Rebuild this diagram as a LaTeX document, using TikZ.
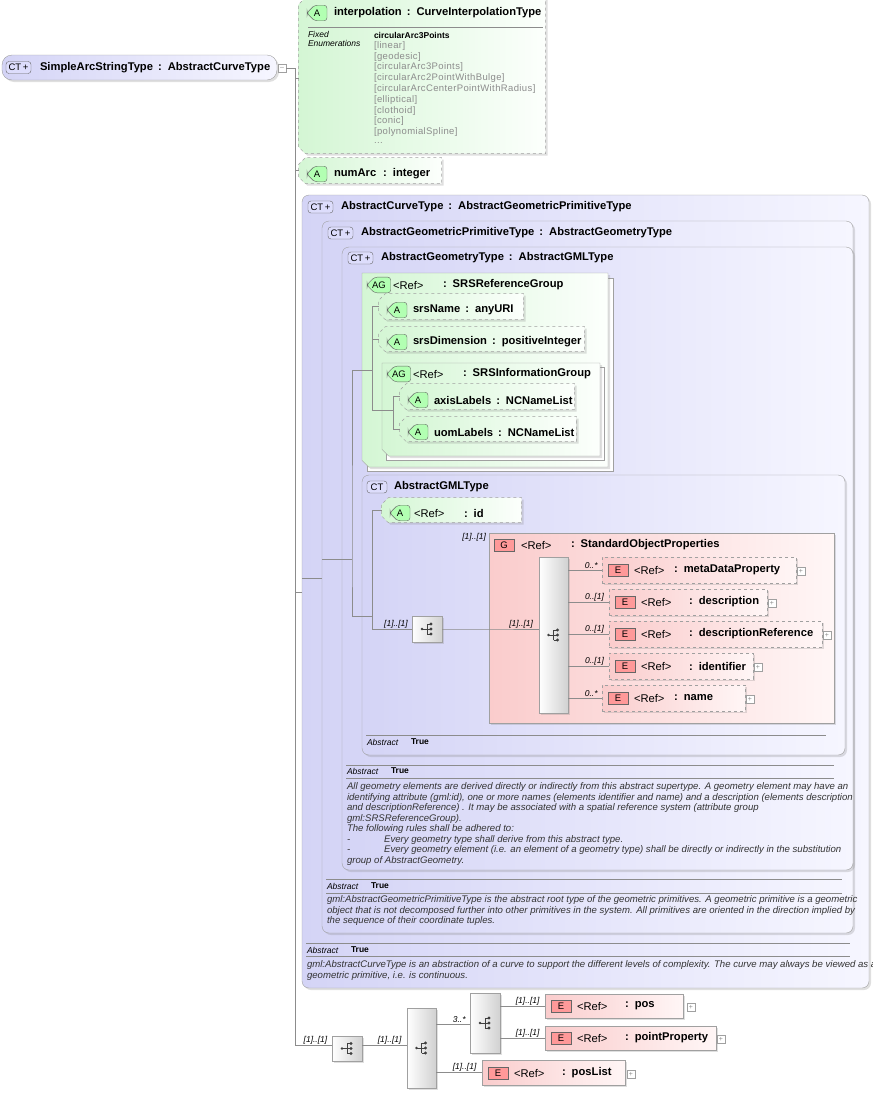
\documentclass[tikz,border=0pt]{standalone}
\usepackage{fontspec}
\setmainfont{Liberation Sans}
\usepackage{tikz}
\usetikzlibrary{
    arrows.meta,
    positioning,
    shapes.misc,
    calc,
    shadows
}
\definecolor{lavdark}{RGB}{212,212,246}
\definecolor{lavlight}{RGB}{246,246,255}
\definecolor{grndark}{RGB}{212,246,212}
\definecolor{grnlight}{RGB}{252,255,252}
\definecolor{reddark}{RGB}{250,204,204}
\definecolor{redlight}{RGB}{255,246,246}
\definecolor{edgegray}{RGB}{160,160,160}
\definecolor{txtgray}{RGB}{140,140,140}

\begin{document}
\begin{tikzpicture}[
    x=1pt, y=-1pt,
    every node/.style={outer sep=0pt},
    shade/.style={drop shadow={opacity=0.25, shadow xshift=2pt, shadow yshift=-2pt}},
    ctbox/.style={
        rectangle, rounded corners=7pt, draw=edgegray, anchor=north west,
        left color=lavdark, right color=lavlight
    },
    grpbox/.style={
        chamfered rectangle, chamfered rectangle corners={south west},
        chamfered rectangle xsep=8pt, draw=edgegray, anchor=north west,
        left color=grndark, right color=grnlight, shade
    },
    attr/.style={
        chamfered rectangle, chamfered rectangle corners={north west,south west},
        chamfered rectangle xsep=7pt, draw=edgegray, dashed, anchor=north west,
        left color=grndark, right color=grnlight, shade
    },
    elem/.style={
        rectangle, draw=edgegray, anchor=north west,
        left color=reddark, right color=redlight, shade
    },
    comp/.style={
        rectangle, draw=edgegray, anchor=north west,
        left color=white, right color=black!18, shade,
        path picture={
            \fill[black!75] ([xshift=-5pt]path picture bounding box.center) circle (1.4pt);
            \draw[black!75, line width=0.8pt]
                ([xshift=-5pt]path picture bounding box.center) -- ([xshift=0pt]path picture bounding box.center)
                ([xshift=0pt, yshift=-5pt]path picture bounding box.center) -- ([xshift=0pt, yshift=5pt]path picture bounding box.center)
                ([xshift=0pt, yshift=-5pt]path picture bounding box.center) -- ([xshift=4pt, yshift=-5pt]path picture bounding box.center)
                ([xshift=0pt, yshift=5pt]path picture bounding box.center) -- ([xshift=4pt, yshift=5pt]path picture bounding box.center)
                ([xshift=0pt]path picture bounding box.center) -- ([xshift=4pt]path picture bounding box.center);
            \fill[black!75] ([xshift=4pt, yshift=-5pt]path picture bounding box.center) circle (1.6pt)
                ([xshift=4pt]path picture bounding box.center) circle (1.6pt)
                ([xshift=4pt, yshift=5pt]path picture bounding box.center) circle (1.6pt);
        }
    },
    badge/.style={
        rectangle, rounded corners=3pt, draw=black!60, inner sep=1pt,
        minimum height=12pt, font=\fontsize{9.5}{10}\selectfont
    },
    ctbadge/.style={badge, fill=lavdark!80!blue!40, minimum width=25pt, anchor=west},
    abadge/.style={badge, chamfered rectangle, chamfered rectangle corners={north west,south west},
        chamfered rectangle xsep=4pt, fill=green!30!white, minimum width=20pt, anchor=west},
    ebadge/.style={badge, rounded corners=0pt, fill=red!40!white, minimum width=20pt, anchor=west},
    plus/.style={rectangle, draw=edgegray, fill=white, minimum size=8pt, inner sep=0pt,
        anchor=west, font=\fontsize{7}{7}\selectfont\color{txtgray}},
    hdr/.style={anchor=west, inner sep=0pt, font=\fontsize{11.2}{13}\selectfont\bfseries},
    ref/.style={anchor=west, inner sep=0pt, font=\fontsize{11.2}{13}\selectfont},
    mult/.style={anchor=south east, inner sep=1pt, font=\fontsize{8.5}{9}\selectfont\itshape},
    small/.style={anchor=west, inner sep=0pt, font=\fontsize{8.5}{9}\selectfont},
    enum/.style={small, font=\fontsize{9.5}{10}\selectfont\addfontfeature{LetterSpace=4}\color{txtgray}},
    doc/.style={anchor=north west, inner sep=0pt, align=left, font=\fontsize{9.6}{10.5}\selectfont\itshape\color{black!80}},
    conn/.style={draw=black!45, line width=0.6pt},
    rule/.style={draw=black!45, line width=0.6pt}
]
\useasboundingbox (0,0) rectangle (873,1093);

% Root type
\node[ctbox, rounded corners=10pt, minimum width=275, minimum height=25, shade] (root) at (2,55) {};
\node[ctbadge] (rootb) at (6,67.5) {CT\,+};
\node[hdr] (rootl) at (40,67.5) {SimpleArcStringType\, :\, AbstractCurveType};
\node[plus, anchor=west] (rootm) at (278,68) {--};

% Trunk
\coordinate (trunktop) at (295,68);
\coordinate (trunkbot) at (295,1045);
\draw[conn] (rootm.east) -- (trunktop) -- (trunkbot);

% Attribute interpolation
\node[attr, minimum width=247, minimum height=156] (interp) at (302,1) {};
\node[abadge] (interpb) at (307,13) {A};
\node[hdr] (interpl) at (334,13) {interpolation\, :\, CurveInterpolationType};
\draw[rule] (308,27) -- (543,27);
\node[doc, font=\fontsize{8.5}{9.5}\selectfont\itshape] (fixed) at (308,31) {Fixed\\Enumerations};
\node[small, font=\fontsize{8.5}{9}\selectfont\bfseries] (enum0) at (374,35) {circularArc3Points};
\node[enum] (enum1) at (374,45.8) {[linear]};
\node[enum] (enum2) at (374,56.6) {[geodesic]};
\node[enum] (enum3) at (374,67.4) {[circularArc3Points]};
\node[enum] (enum4) at (374,78.2) {[circularArc2PointWithBulge]};
\node[enum] (enum5) at (374,89) {[circularArcCenterPointWithRadius]};
\node[enum] (enum6) at (374,99.8) {[elliptical]};
\node[enum] (enum7) at (374,110.6) {[clothoid]};
\node[enum] (enum8) at (374,121.4) {[conic]};
\node[enum] (enum9) at (374,132.2) {[polynomialSpline]};
\node[enum] (enum10) at (374,143) {...};
\draw[conn] (trunktop |- 0,78) -- (interp.west |- 0,78);

% Attribute numArc
\node[attr, minimum width=143, minimum height=26] (numarc) at (302,161) {};
\node[abadge] (numarcb) at (307,174) {A};
\node[hdr] (numarcl) at (334,174) {numArc\,\, :\, integer};
\draw[conn] (trunktop |- numarc.west) -- (numarc.west);

% Nested base types
\node[ctbox, minimum width=567, minimum height=793, shade] (curve) at (302,195) {};
\node[ctbadge] (curveb) at (308,207) {CT\,+};
\node[hdr] (curvel) at (341,207) {AbstractCurveType\, :\, AbstractGeometricPrimitiveType};
\draw[conn] (trunktop |- 0,592) -- (302,592);

\node[ctbox, minimum width=531, minimum height=712, shade] (prim) at (322,221) {};
\node[ctbadge] (primb) at (328,233) {CT\,+};
\node[hdr] (priml) at (361,233) {AbstractGeometricPrimitiveType\, :\, AbstractGeometryType};
\draw[conn] (curve.west |- 0,578) -- (prim.west |- 0,578);

\node[ctbox, minimum width=511, minimum height=623, shade] (geom) at (342,247) {};
\node[ctbadge] (geomb) at (348,258) {CT\,+};
\node[hdr] (geoml) at (381,258) {AbstractGeometryType\, :\, AbstractGMLType};
\coordinate (geomj) at (352,559);
\draw[conn] (prim.west |- geomj) -- (geomj);

% SRSReferenceGroup
\draw[fill=white, draw=edgegray] (367,278) rectangle (613,471);
\node[grpbox, minimum width=246, minimum height=194] (srsref) at (362,273) {};
\node[abadge] (srsrefb) at (367,285) {AG};
\node[ref] (srsrefr) at (393,285) {<Ref>};
\node[hdr] (srsrefl) at (443,285) {:\, SRSReferenceGroup};
\node[attr, minimum width=145, minimum height=26] (srsname) at (382,297) {};
\node[abadge] (srsnameb) at (387,310) {A};
\node[hdr] (srsnamel) at (413,310) {srsName\, :\, anyURI};
\node[attr, minimum width=206, minimum height=25] (srsdim) at (382,330) {};
\node[abadge] (srsdimb) at (387,342) {A};
\node[hdr] (srsdiml) at (413,342) {srsDimension\, :\, positiveInteger};
\draw[fill=white, draw=edgegray] (386,367) rectangle (604,460);
\node[grpbox, minimum width=218, minimum height=93] (srsinfo) at (382,363) {};
\node[abadge] (srsinfob) at (387,374) {AG};
\node[ref] (srsinfor) at (413,374) {<Ref>};
\node[hdr] (srsinfol) at (463,374) {:\, SRSInformationGroup};
\node[attr, minimum width=175, minimum height=26] (axis) at (403,387) {};
\node[abadge] (axisb) at (408,400) {A};
\node[hdr] (axisl) at (434,400) {axisLabels\, :\, NCNameList};
\node[attr, minimum width=177, minimum height=25] (uom) at (403,420) {};
\node[abadge] (uomb) at (408,432) {A};
\node[hdr] (uoml) at (434,432) {uomLabels\, :\, NCNameList};

\coordinate (srsj) at (372,370);
\coordinate (infoj) at (393,410);
\draw[conn] (srsj |- srsname.west) -- (srsname.west);
\draw[conn] (srsj |- srsdim.west) -- (srsdim.west);
\draw[conn] (srsj |- srsname.west) -- (srsj |- infoj) -- (infoj);
\draw[conn] (infoj |- axis.west) -- (axis.west);
\draw[conn] (infoj |- axis.west) -- (infoj |- uom.west) -- (uom.west);
\draw[conn] (geomj |- srsj) -- (srsj);

% AbstractGMLType
\node[ctbox, minimum width=483, minimum height=280, shade] (gml) at (362,475) {};
\node[badge, fill=lavdark!80!blue!40, minimum width=20pt, anchor=west] (gmlb) at (367,487) {CT};
\node[hdr] (gmll) at (394,487) {AbstractGMLType};
\node[attr, minimum width=140, minimum height=25] (gid) at (385,501) {};
\node[abadge] (gidb) at (390,513) {A};
\node[ref] (gidr) at (414,513) {<Ref>};
\node[hdr] (gidl) at (464,513) {:\, id};
\node[comp, minimum width=30, minimum height=26] (gcomp) at (412,616) {};
\coordinate (gmlj) at (372,616);
\draw[conn] (geomj |- srsj) -- (geomj) -- (geomj |- gmlj) -- (gmlj);
\draw[conn] (gmlj |- gid.west) -- (gid.west);
\draw[conn] (gmlj |- gid.west) -- (gmlj |- gcomp.west) -- (gcomp.west)
    node[mult, pos=0.92] {[1]..[1]};

% StandardObjectProperties group
\node[elem, minimum width=345, minimum height=190] (sop) at (489,533) {};
\node[mult, anchor=south east] (sopm) at (487,542) {[1]..[1]};
\node[ebadge] (sopb) at (494,545) {G};
\node[ref] (sopr) at (521,545) {<Ref>};
\node[hdr] (sopl) at (571,545) {:\, StandardObjectProperties};
\node[comp, minimum width=29, minimum height=156] (scomp) at (539,557) {};
\draw[conn] (gcomp.east) -- (sop.west |- gcomp.east) -- (scomp.west |- gcomp.east)
    node[mult, pos=0.9] {[1]..[1]};

% Elements of StandardObjectProperties
\foreach \nm/\lbl/\xx/\yy/\ww/\mm/\gap in {
    meta/metaDataProperty/602/557/194/{0..*}/40,
    desc/description/609/589/158/{0..[1]}/48,
    descref/descriptionReference/609/621/213/{0..[1]}/48,
    ident/identifier/609/653/144/{0..[1]}/48,
    name/name/602/685/143/{0..*}/40} {
    \node[elem, dashed, minimum width=\ww, minimum height=26] (\nm) at (\xx,\yy) {};
    \node[ebadge] (\nm b) at (\xx+6,\yy+13) {E};
    \node[ref] (\nm r) at (\xx+32,\yy+13) {<Ref>};
    \node[hdr] (\nm l) at (\xx+32+\gap,\yy+13) {:\, \lbl};
    \node[plus] (\nm p) at (\xx+\ww+1,\yy+14) {+};
    \draw[conn] (scomp.east |- \nm.west) -- (\nm.west) node[mult, pos=0.9] {\mm};
}

\draw[rule] (366,735) -- (826,735);
\node[small, font=\fontsize{8.5}{9}\selectfont\itshape] (gmlab) at (367,742) {Abstract};
\node[small, font=\fontsize{8.5}{9}\selectfont\bfseries] (gmlat) at (411,742) {True};

% Documentation of AbstractGeometryType
\draw[rule] (346,765) -- (834,765);
\draw[rule] (346,778) -- (834,778);
\node[small, font=\fontsize{8.5}{9}\selectfont\itshape] (geomab) at (347,771) {Abstract};
\node[small, font=\fontsize{8.5}{9}\selectfont\bfseries] (geomat) at (391,771) {True};
\node[doc] (geomdoc) at (347,783) {All geometry elements are derived directly or indirectly from this abstract supertype. A geometry element may have an\\
identifying attribute (gml:id), one or more names (elements identifier and name) and a description (elements description\\
and descriptionReference) . It may be associated with a spatial reference system (attribute group\\
gml:SRSReferenceGroup).\\
The following rules shall be adhered to:\\
-\hspace{34pt}Every geometry type shall derive from this abstract type.\\
-\hspace{34pt}Every geometry element (i.e. an element of a geometry type) shall be directly or indirectly in the substitution\\
group of AbstractGeometry.};

% Documentation of AbstractGeometricPrimitiveType
\draw[rule] (326,879) -- (842,879);
\draw[rule] (326,893) -- (842,893);
\node[small, font=\fontsize{8.5}{9}\selectfont\itshape] (primab) at (327,886) {Abstract};
\node[small, font=\fontsize{8.5}{9}\selectfont\bfseries] (primat) at (371,886) {True};
\node[doc] (primdoc) at (327,896) {gml:AbstractGeometricPrimitiveType is the abstract root type of the geometric primitives. A geometric primitive is a geometric\\
object that is not decomposed further into other primitives in the system. All primitives are oriented in the direction implied by\\
the sequence of their coordinate tuples.};

% Documentation of AbstractCurveType
\draw[rule] (306,943) -- (850,943);
\draw[rule] (306,956) -- (850,956);
\node[small, font=\fontsize{8.5}{9}\selectfont\itshape] (curveab) at (307,950) {Abstract};
\node[small, font=\fontsize{8.5}{9}\selectfont\bfseries] (curveat) at (351,950) {True};
\node[doc] (curvedoc) at (307,961) {gml:AbstractCurveType is an abstraction of a curve to support the different levels of complexity. The curve may always be viewed as a\\
geometric primitive, i.e. is continuous.};

% Content model
\node[comp, minimum width=30, minimum height=25] (seq) at (332,1036) {};
\node[comp, minimum width=29, minimum height=80] (choice) at (407,1008) {};
\node[comp, minimum width=30, minimum height=60] (seqpt) at (470,993) {};
\draw[conn] (trunkbot) -- (seq.west |- trunkbot) node[mult, pos=0.9] {[1]..[1]};
\draw[conn] (seq.east |- trunkbot) -- (choice.west |- trunkbot) node[mult, pos=0.9] {[1]..[1]};
\draw[conn] (choice.east |- 0,1024) -- (seqpt.west |- 0,1024) node[mult, pos=0.9] {3..*};

\node[elem, minimum width=138, minimum height=24] (pos) at (545,994) {};
\node[ebadge] (posb) at (551,1006) {E};
\node[ref] (posr) at (577,1006) {<Ref>};
\node[hdr] (posl) at (625,1006) {:\, pos};
\node[plus] (posp) at (687,1007) {+};
\node[elem, minimum width=171, minimum height=24] (ptprop) at (545,1026) {};
\node[ebadge] (ptpropb) at (551,1038) {E};
\node[ref] (ptpropr) at (577,1038) {<Ref>};
\node[hdr] (ptpropl) at (625,1038) {:\, pointProperty};
\node[plus] (ptpropp) at (717,1039) {+};
\node[elem, minimum width=143, minimum height=25] (poslist) at (482,1060) {};
\node[ebadge] (poslistb) at (488,1073) {E};
\node[ref] (poslistr) at (514,1073) {<Ref>};
\node[hdr] (poslistl) at (562,1073) {:\, posList};
\node[plus] (poslistp) at (627,1074) {+};

\draw[conn] (seqpt.east |- pos.west) -- (pos.west) node[mult, pos=0.9] {[1]..[1]};
\draw[conn] (seqpt.east |- ptprop.west) -- (ptprop.west) node[mult, pos=0.9] {[1]..[1]};
\draw[conn] (choice.east |- poslist.west) -- (poslist.west) node[mult, pos=0.9] {[1]..[1]};

\end{tikzpicture}
\end{document}
